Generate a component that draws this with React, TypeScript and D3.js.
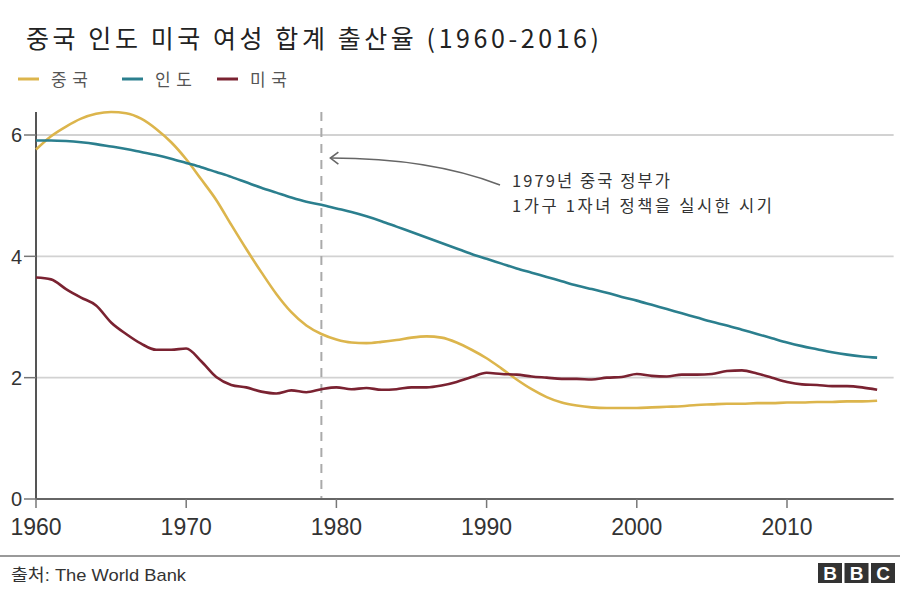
// Total fertility rate: China, India, USA (1960-2016)
import { useEffect, useRef } from 'react'
import * as d3 from 'd3'

const years = d3.range(1960, 2017)

const china = [
  5.76, 5.98, 6.14, 6.27, 6.35, 6.38, 6.36, 6.27, 6.10, 5.88,
  5.60, 5.27, 4.93, 4.52, 4.12, 3.74, 3.38, 3.08, 2.86, 2.72,
  2.63, 2.58, 2.57, 2.59, 2.62, 2.66, 2.68, 2.66, 2.58, 2.46,
  2.32, 2.15, 1.97, 1.81, 1.68, 1.59, 1.54, 1.51, 1.50, 1.50,
  1.50, 1.51, 1.52, 1.53, 1.55, 1.56, 1.57, 1.57, 1.58, 1.58,
  1.59, 1.59, 1.60, 1.60, 1.61, 1.61, 1.62
]

const india = [
  5.91, 5.91, 5.90, 5.88, 5.85, 5.81, 5.77, 5.72, 5.67, 5.61,
  5.54, 5.47, 5.39, 5.31, 5.22, 5.13, 5.05, 4.97, 4.90, 4.85,
  4.79, 4.73, 4.66, 4.58, 4.49, 4.40, 4.31, 4.22, 4.13, 4.04,
  3.96, 3.88, 3.80, 3.73, 3.66, 3.59, 3.52, 3.46, 3.40, 3.33,
  3.27, 3.20, 3.13, 3.06, 2.99, 2.92, 2.86, 2.79, 2.72, 2.65,
  2.58, 2.52, 2.47, 2.42, 2.38, 2.35, 2.33
]

const usa = [
  3.65, 3.62, 3.46, 3.32, 3.19, 2.91, 2.72, 2.56, 2.46, 2.46,
  2.48, 2.27, 2.01, 1.88, 1.84, 1.77, 1.74, 1.79, 1.76, 1.81,
  1.84, 1.81, 1.83, 1.80, 1.81, 1.84, 1.84, 1.87, 1.93, 2.01,
  2.08, 2.06, 2.05, 2.02, 2.00, 1.98, 1.98, 1.97, 2.00, 2.01,
  2.06, 2.03, 2.02, 2.05, 2.05, 2.06, 2.11, 2.12, 2.07, 2.00,
  1.93, 1.89, 1.88, 1.86, 1.86, 1.84, 1.80
]

const seriesNames = ['중국', '인도', '미국']
const seriesColors = ['#dcb54c', '#2b7f8e', '#7a2231']
const xTicks = [1960, 1970, 1980, 1990, 2000, 2010]
const yTicks = [0, 2, 4, 6]
const policyYear = 1979

const title = '중국 인도 미국 여성 합계 출산율 (1960-2016)'
const noteLines = ['1979년 중국 정부가', '1가구 1자녀 정책을 실시한 시기']
const noteWidths = [158, 260]
const source = '출처: The World Bank'

const W = 900
const H = 589
const KR = "'Noto Sans CJK KR', 'Noto Sans', sans-serif"
const SANS = "'Liberation Sans', Arial, " + KR

export default function App() {
  const svgRef = useRef<SVGSVGElement>(null)

  useEffect(() => {
    if (!svgRef.current) return
    const svg = d3.select(svgRef.current)
    svg.selectAll('*').remove()

    const x = d3.scaleLinear().domain([1960, 2010]).range([36, 787])
    const y = d3.scaleLinear().domain([0, 6]).range([499, 135])
    const xEnd = x(2017.1)
    const yTop = y(6.38)

    svg.append('rect').attr('width', W).attr('height', H).attr('fill', '#fff')

    // title
    svg.append('text')
      .attr('x', 26).attr('y', 48)
      .attr('textLength', 573).attr('lengthAdjust', 'spacing')
      .style('font-family', KR).style('font-size', '25px')
      .style('fill', '#222')
      .text(title)

    // legend
    const legendX = [18, 122, 217]
    seriesNames.forEach((name, i) => {
      svg.append('line')
        .attr('x1', legendX[i]).attr('x2', legendX[i] + 21)
        .attr('y1', 79).attr('y2', 79)
        .attr('stroke', seriesColors[i]).attr('stroke-width', 3)
      svg.append('text')
        .attr('x', legendX[i] + 33).attr('y', 86)
        .attr('textLength', 37).attr('lengthAdjust', 'spacing')
        .style('font-family', KR).style('font-size', '17px')
        .style('fill', '#555')
        .text(name)
    })

    // grid
    svg.append('g').selectAll('line')
      .data(yTicks.filter(d => d > 0))
      .enter().append('line')
      .attr('x1', x(1960)).attr('x2', xEnd)
      .attr('y1', d => y(d)).attr('y2', d => y(d))
      .attr('stroke', '#d2d2d2').attr('stroke-width', 1.8)

    // y axis
    svg.append('line')
      .attr('x1', x(1960)).attr('x2', x(1960))
      .attr('y1', yTop).attr('y2', y(0))
      .attr('stroke', '#555').attr('stroke-width', 2)
    const yt = svg.append('g').selectAll('g').data(yTicks).enter().append('g')
    yt.append('line')
      .attr('x1', 24).attr('x2', x(1960))
      .attr('y1', d => y(d)).attr('y2', d => y(d))
      .attr('stroke', '#777').attr('stroke-width', 1.5)
    yt.append('text')
      .attr('x', 22).attr('y', d => y(d)).attr('dy', '0.36em')
      .attr('text-anchor', 'end')
      .style('font-family', SANS).style('font-size', '20px')
      .style('fill', '#333')
      .text(d => d)

    // x axis
    svg.append('line')
      .attr('x1', x(1960)).attr('x2', xEnd)
      .attr('y1', y(0)).attr('y2', y(0))
      .attr('stroke', '#666').attr('stroke-width', 2.2)
    const xt = svg.append('g').selectAll('g').data(xTicks).enter().append('g')
    xt.append('line')
      .attr('x1', d => x(d)).attr('x2', d => x(d))
      .attr('y1', y(0)).attr('y2', y(0) + 9)
      .attr('stroke', '#777').attr('stroke-width', 1.5)
    xt.append('text')
      .attr('x', d => x(d)).attr('y', 535)
      .attr('text-anchor', 'middle')
      .style('font-family', SANS).style('font-size', '23px')
      .style('fill', '#333')
      .text(d => d)

    // policy marker
    svg.append('line')
      .attr('x1', x(policyYear)).attr('x2', x(policyYear))
      .attr('y1', yTop).attr('y2', y(0) - 1)
      .attr('stroke', '#aaa').attr('stroke-width', 2)
      .attr('stroke-dasharray', '9,7')

    // lines
    const line = d3.line<number>()
      .x((_, i) => x(years[i]))
      .y(d => y(d))
      .curve(d3.curveMonotoneX)
    ;[china, india, usa].forEach((vals, i) => {
      svg.append('path')
        .datum(vals)
        .attr('fill', 'none')
        .attr('stroke', seriesColors[i])
        .attr('stroke-width', 2.6)
        .attr('stroke-linejoin', 'round')
        .attr('d', line)
    })

    // annotation arrow
    const headX = x(policyYear) + 9
    const headY = y(5.62)
    svg.append('path')
      .attr('d', `M500,185 Q430,158 ${headX},${headY}`)
      .attr('fill', 'none').attr('stroke', '#666').attr('stroke-width', 1.6)
    svg.append('path')
      .attr('d', `M${headX + 8},${headY - 6} L${headX},${headY} L${headX + 8},${headY + 6}`)
      .attr('fill', 'none').attr('stroke', '#666').attr('stroke-width', 1.6)
    noteLines.forEach((t, i) => {
      svg.append('text')
        .attr('x', 512).attr('y', 187 + i * 25)
        .attr('textLength', noteWidths[i]).attr('lengthAdjust', 'spacing')
        .style('font-family', KR).style('font-size', '16.5px')
        .style('fill', '#333')
        .text(t)
    })

    // footer
    svg.append('line')
      .attr('x1', 0).attr('x2', W)
      .attr('y1', 556).attr('y2', 556)
      .attr('stroke', '#999').attr('stroke-width', 2)
    svg.append('text')
      .attr('x', 11).attr('y', 581)
      .attr('textLength', 175).attr('lengthAdjust', 'spacingAndGlyphs')
      .style('font-family', SANS).style('font-size', '17px')
      .style('fill', '#333')
      .text(source)
    const bbc = svg.append('g').attr('transform', 'translate(818,563)')
    ;['B', 'B', 'C'].forEach((ch, i) => {
      bbc.append('rect')
        .attr('x', i * 26.5).attr('y', 0).attr('width', 24).attr('height', 20)
        .attr('fill', '#333')
      bbc.append('text')
        .attr('x', i * 26.5 + 12).attr('y', 17)
        .attr('text-anchor', 'middle')
        .style('font-family', "'Liberation Sans', Arial, sans-serif")
        .style('font-size', '19px').style('font-weight', 'bold')
        .style('fill', '#fff')
        .text(ch)
    })
  }, [])

  return (
    <div style={{ position: 'absolute', left: 0, top: 0 }}>
      <svg ref={svgRef} width={W} height={H} style={{ display: 'block' }} />
    </div>
  )
}
